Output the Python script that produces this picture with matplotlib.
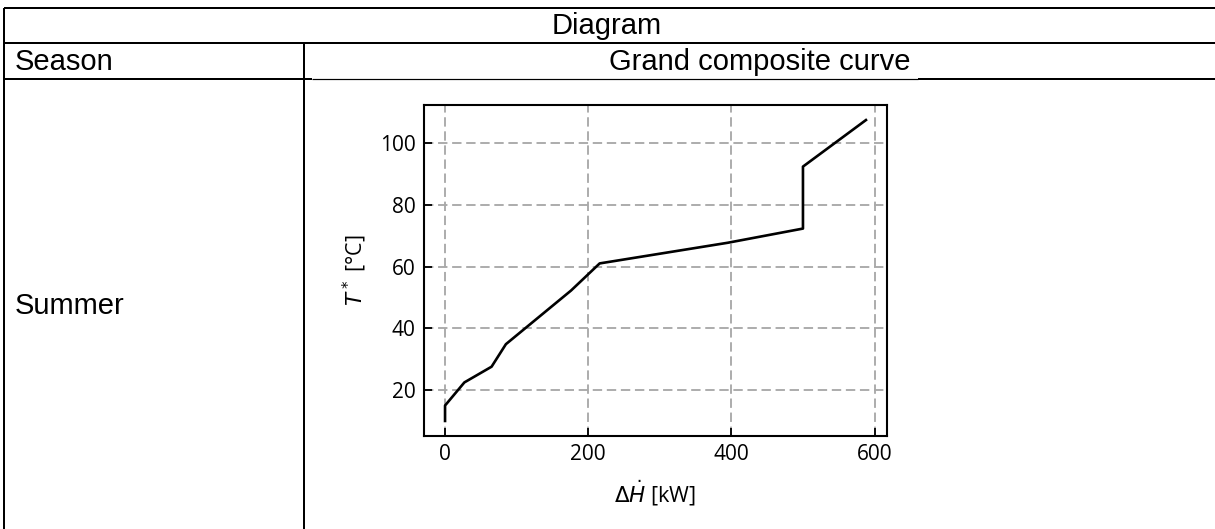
import matplotlib
matplotlib.use("Agg")
import matplotlib.pyplot as plt
from matplotlib.lines import Line2D

# Data
delta_h = [0, 0, 27, 65, 85, 176, 216, 395, 500, 500, 588]
t_star = [10.0, 15.0, 22.5, 27.6, 34.9, 52.3, 61.1, 67.8, 72.4, 92.5, 107.6]
x_ticks = [0, 200, 400, 600]
y_ticks = [20, 40, 60, 80, 100]

header_title = "Diagram"
col_season = "Season"
col_diagram = "Grand composite curve"
row_label = "Summer"

W, H = 1215, 529
fig = plt.figure(figsize=(W / 100, H / 100), dpi=100)

def fx(px):
    return px / W

def fy(py):
    return 1 - py / H

table_font = ["Liberation Sans", "DejaVu Sans"]
tfs = 21

# Table lines
lines = [
    ((4, 1215), (8, 8), 2.0),
    ((4, 1215), (43, 43), 2.0),
    ((4, 312), (79, 79), 2.0),
    ((312, 918), (79, 79), 1.2),
    ((918, 1215), (79, 79), 2.0),
    ((4, 4), (8, 529), 2.0),
    ((304, 304), (43, 529), 2.0),
]
for (x0, x1), (y0, y1), lw in lines:
    fig.add_artist(Line2D([fx(x0), fx(x1)], [fy(y0), fy(y1)], color="black",
                          linewidth=lw * 0.72, solid_capstyle="butt"))

fig.text(fx(607), fy(26), header_title, ha="center", va="center",
         fontsize=tfs, family=table_font)
fig.text(fx(15), fy(62), col_season, ha="left", va="center",
         fontsize=tfs, family=table_font)
fig.text(fx(760), fy(62), col_diagram, ha="center", va="center",
         fontsize=tfs, family=table_font)
fig.text(fx(15), fy(306), row_label, ha="left", va="center",
         fontsize=tfs, family=table_font)

# Plot
ax = fig.add_axes([fx(424), fy(436), fx(887) - fx(424), fy(105) - fy(436)])
ax.plot(delta_h, t_star, color="black", linewidth=1.9)
ax.set_xticks(x_ticks)
ax.set_yticks(y_ticks)
ax.margins(0.05)
ax.grid(True, linestyle=(0, (5, 2.5)), color="#a9a9a9", linewidth=1.35)
ax.set_axisbelow(True)
for s in ax.spines.values():
    s.set_linewidth(1.5)
ax.tick_params(direction="in", length=5.5, width=1.3, labelsize=15, pad=6)
for lbl in ax.get_xticklabels() + ax.get_yticklabels():
    lbl.set_family(["Open Sans", "DejaVu Sans"])
ax.set_xlabel(r"$\Delta\dot{H}$ [kW]", fontsize=15.5, family=["Open Sans", "DejaVu Sans"], labelpad=9)
ax.set_ylabel(r"$T^*$ [°C]", fontsize=15.5, family=["Open Sans", "DejaVu Sans"], labelpad=8)

fig.savefig("out.png", dpi=100)
